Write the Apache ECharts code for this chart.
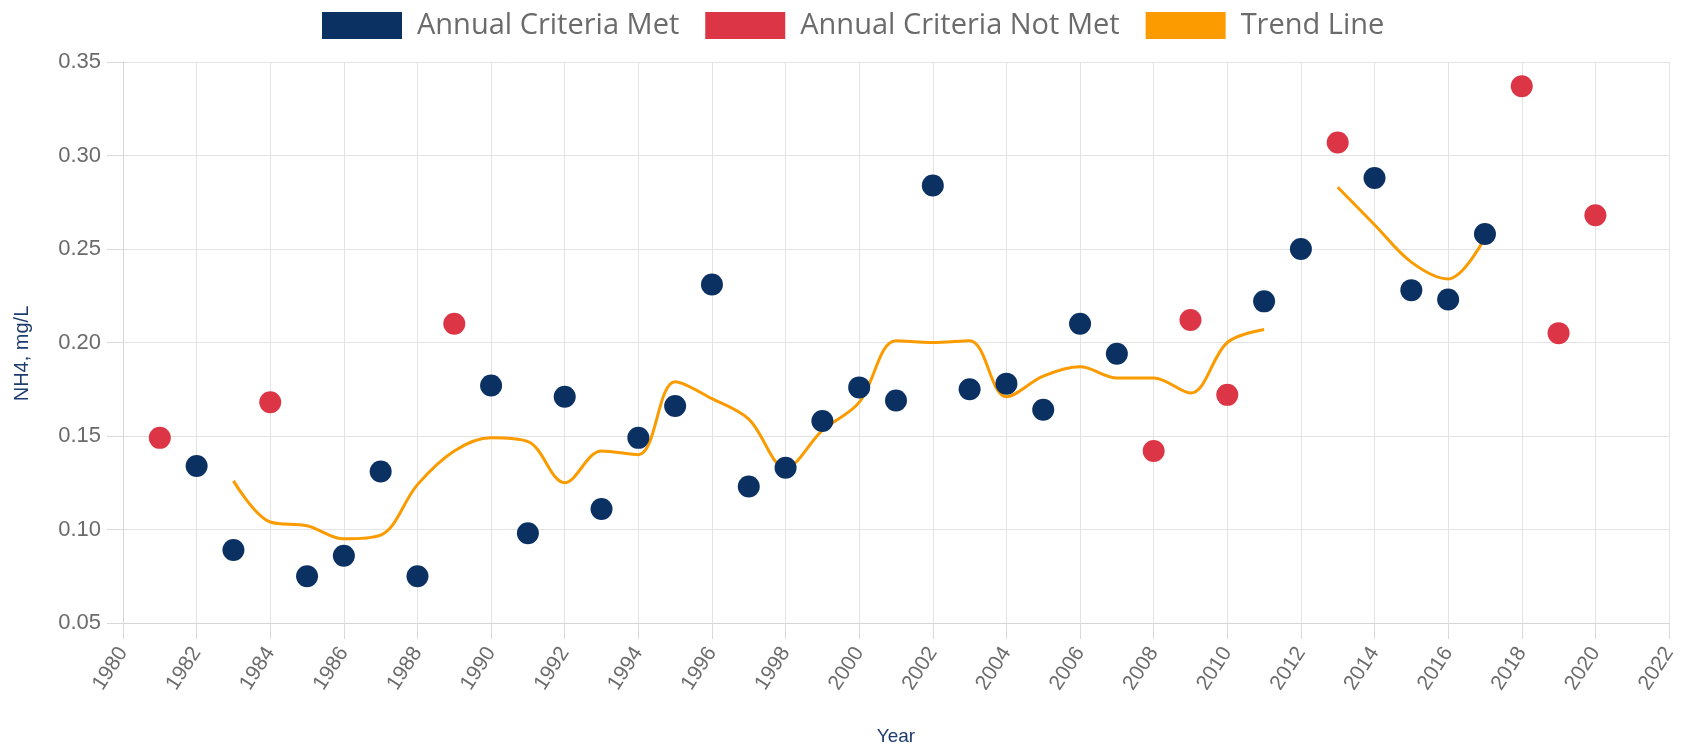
<!DOCTYPE html>
<html>
<head>
<meta charset="utf-8">
<script src="https://cdn.jsdelivr.net/npm/echarts@6/dist/echarts.min.js"></script>
<style>
html,body{margin:0;padding:0;background:#fff;}
#chart{width:1685px;height:744px;}
</style>
</head>
<body>
<div id="chart"></div>
<script>
// Data
const metYears = [1982, 1983, 1985, 1986, 1987, 1988, 1990, 1991, 1992, 1993, 1994, 1995, 1996, 1997, 1998, 1999, 2000, 2001, 2002, 2003, 2004, 2005, 2006, 2007, 2011, 2012, 2014, 2015, 2016, 2017];
const metValues = [0.134, 0.089, 0.075, 0.086, 0.131, 0.075, 0.177, 0.098, 0.171, 0.111, 0.149, 0.166, 0.231, 0.123, 0.133, 0.158, 0.176, 0.169, 0.284, 0.175, 0.178, 0.164, 0.210, 0.194, 0.222, 0.250, 0.288, 0.228, 0.223, 0.258];

const notMetYears = [1981, 1984, 1989, 2008, 2009, 2010, 2013, 2018, 2019, 2020];
const notMetValues = [0.149, 0.168, 0.210, 0.142, 0.212, 0.172, 0.307, 0.337, 0.205, 0.268];

const trendYears = [1983, 1984, 1985, 1986, 1987, 1988, 1989, 1990, 1991, 1992, 1993, 1994, 1995, 1996, 1997, 1998, 1999, 2000, 2001, 2002, 2003, 2004, 2005, 2006, 2007, 2008, 2009, 2010, 2011, 2012, 2013, 2014, 2015, 2016, 2017];
const trendValues = [0.126, 0.104, 0.102, 0.095, 0.097, 0.124, 0.142, 0.149, 0.147, 0.125, 0.142, 0.140, 0.179, 0.170, 0.159, 0.133, 0.153, 0.168, 0.201, 0.200, 0.201, 0.171, 0.182, 0.187, 0.181, 0.181, 0.173, 0.200, 0.207, null, 0.283, 0.263, 0.243, 0.234, 0.256];

const seriesNames = ['Annual Criteria Met', 'Annual Criteria Not Met', 'Trend Line'];
const xAxisTitle = 'Year';
const yAxisTitle = 'NH4, mg/L';

const COLORS = { met: '#0b3163', notMet: '#dc3545', trend: '#fb9b00' };
const pair = (xs, ys) => xs.map((x, i) => [x, ys[i]]);

const chart = echarts.init(document.getElementById('chart'));
chart.setOption({
  animation: false,
  backgroundColor: '#ffffff',
  legend: {
    top: 11,
    left: 322,
    padding: 0,
    icon: 'rect',
    itemWidth: 80,
    itemHeight: 27,
    itemGap: 26,
    data: seriesNames,
    textStyle: { color: '#6b6b6b', fontSize: 29, fontFamily: 'Open Sans', padding: [0, 0, 0, 10] }
  },
  grid: { left: 123, right: 16, top: 62, bottom: 121, containLabel: false, outerBoundsMode: 'none' },
  xAxis: {
    type: 'value',
    min: 1980, max: 2022, interval: 2,
    name: xAxisTitle,
    nameLocation: 'middle',
    nameGap: 104,
    nameTextStyle: { color: '#1d3c6e', fontSize: 19, fontFamily: 'Liberation Sans' },
    axisLine: { show: true, lineStyle: { color: '#d6d6d6' } },
    axisTick: { show: true, inside: false, length: 16, lineStyle: { color: '#d9d9d9', width: 1 } },
    splitLine: { show: true, lineStyle: { color: '#e3e3e3' } },
    axisLabel: { rotate: 57, color: '#6b6b6b', fontSize: 21, fontFamily: 'Liberation Sans', margin: 26, formatter: v => String(v) }
  },
  yAxis: {
    type: 'value',
    min: 0.05, max: 0.35, interval: 0.05,
    name: yAxisTitle,
    nameLocation: 'middle',
    nameGap: 91,
    nameRotate: 90,
    nameTextStyle: { color: '#1d3c6e', fontSize: 20, fontFamily: 'Liberation Sans', padding: [0, 22, 0, 0] },
    axisLine: { show: true, lineStyle: { color: '#d6d6d6' } },
    axisTick: { show: true, inside: false, length: 16, lineStyle: { color: '#d9d9d9', width: 1 } },
    splitLine: { show: true, lineStyle: { color: '#e3e3e3' } },
    axisLabel: { color: '#6b6b6b', fontSize: 22, fontFamily: 'Liberation Sans', margin: 22, formatter: v => v.toFixed(2) }
  },
  series: [
    {
      name: seriesNames[0], type: 'scatter', symbolSize: 22, z: 3,
      itemStyle: { color: COLORS.met, opacity: 1 },
      data: pair(metYears, metValues)
    },
    {
      name: seriesNames[1], type: 'scatter', symbolSize: 22, z: 3,
      itemStyle: { color: COLORS.notMet, opacity: 1 },
      data: pair(notMetYears, notMetValues)
    },
    {
      name: seriesNames[2], type: 'line', smooth: 0.35, showSymbol: false, connectNulls: false, z: 2,
      lineStyle: { color: COLORS.trend, width: 3 },
      itemStyle: { color: COLORS.trend },
      data: pair(trendYears, trendValues)
    }
  ]
});
</script>
</body>
</html>
